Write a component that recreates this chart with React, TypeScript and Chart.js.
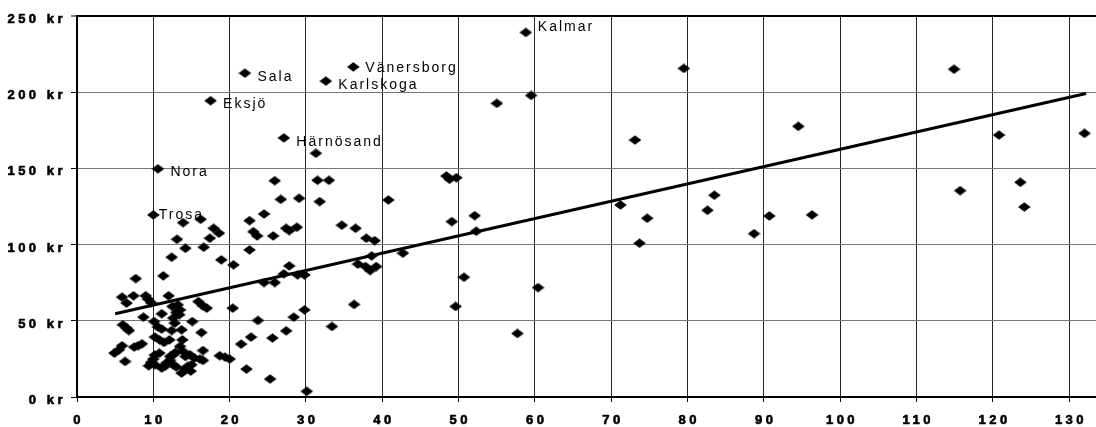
import React, { useEffect, useRef } from 'react';
import { Chart, registerables } from 'chart.js';

Chart.register(...registerables);

// ---------- data ----------
const xTickValues = [0, 10, 20, 30, 40, 50, 60, 70, 80, 90, 100, 110, 120, 130];
const yTickValues = [0, 50, 100, 150, 200, 250];
const yUnit = 'kr';

const namedCities = ['Kalmar', 'Vänersborg', 'Karlskoga', 'Sala', 'Eksjö', 'Härnösand', 'Nora', 'Trosa'];
const namedX = [58.8, 36.2, 32.6, 22.0, 17.5, 27.1, 10.6, 10.0];
const namedY = [239.2, 216.6, 207.3, 212.5, 194.4, 170.0, 149.7, 119.5];

const otherX = [
  55.0, 59.5, 79.5, 73.1, 94.5, 71.2, 74.7, 73.7, 83.5, 82.6, 88.7, 90.7, 96.3, 114.9, 120.8, 132.0, 115.7, 123.6, 124.1,
  48.4, 48.8, 49.7, 49.1, 52.1, 52.3, 42.7, 50.7, 49.6, 60.4, 57.7,
  31.3, 25.9, 31.5, 33.0, 26.7, 29.1, 31.8, 40.8, 22.6, 24.5, 23.1, 23.6, 25.7, 27.4, 27.8, 28.8, 34.7, 36.5, 37.9, 39.0,
  22.6, 38.6, 36.8, 37.8, 38.4, 39.2, 27.8, 27.1, 28.9, 29.8, 24.5, 25.9, 36.3, 29.8, 28.4, 23.7, 33.4, 27.4, 22.8, 25.6,
  21.5, 22.2, 25.3, 30.1,
  13.9, 16.2, 17.9, 18.6, 17.4, 13.1, 14.2, 16.6, 12.4, 18.9, 20.5, 7.7, 11.3,
  5.9, 6.5, 7.4, 9.0, 9.3, 9.7, 12.0, 12.5, 13.2, 13.5, 13.0, 13.4, 12.6, 12.8,
  15.9, 16.5, 17.0, 20.4,
  8.7, 11.1, 6.0, 6.5, 6.8, 10.1, 10.6, 11.1, 15.1, 13.7, 16.3, 12.4,
  10.2, 10.8, 11.4, 5.9, 5.5, 4.9, 7.5, 8.0, 8.5, 6.3,
  10.2, 10.8, 10.0, 9.7, 9.4, 10.2, 11.1, 11.5, 11.7, 12.2, 12.2,
  13.8, 13.5, 13.9, 12.9, 12.6, 14.2, 14.8, 15.4, 16.1, 16.5, 16.5, 13.0, 12.6, 14.5, 15.0, 14.2, 13.7, 14.9, 12.1,
  18.7, 19.4, 20.0,
];
const otherY = [
  192.7, 197.9, 215.6, 168.6, 177.6, 126.0, 117.3, 100.9, 132.4, 122.5, 107.2, 118.8, 119.5, 215.1, 171.9, 173.0, 135.4, 140.9, 124.7,
  145.0, 142.9, 143.9, 115.1, 119.0, 108.8, 94.4, 78.6, 59.4, 71.8, 41.7,
  159.9, 141.9, 142.2, 142.2, 129.7, 130.4, 128.2, 129.3, 115.7, 120.1, 108.5, 105.7, 105.7, 110.7, 109.2, 111.4, 112.7, 110.7, 104.2, 102.6,
  96.5, 92.6, 87.2, 85.6, 83.0, 85.6, 86.0, 80.8, 80.1, 80.1, 75.1, 75.1, 60.7, 57.2, 52.4, 50.2, 46.3, 43.4, 39.3, 38.7,
  34.7, 18.3, 11.8, 3.7,
  114.4, 116.6, 110.7, 107.5, 104.2, 103.5, 97.6, 98.3, 91.7, 90.0, 86.7, 77.7, 79.5,
  65.5, 61.6, 66.4, 66.4, 64.2, 62.0, 66.4, 59.4, 60.5, 57.2, 55.5, 54.0, 51.8, 48.5,
  62.6, 59.8, 58.3, 58.3,
  52.4, 54.6, 47.4, 45.2, 43.6, 49.5, 45.9, 44.6, 49.5, 44.1, 42.3, 43.6,
  39.3, 37.5, 35.8, 33.6, 31.0, 28.8, 32.8, 33.6, 34.9, 23.3,
  27.6, 28.8, 24.9, 22.7, 20.5, 21.2, 19.0, 20.1, 22.3, 24.0, 26.6,
  37.5, 33.2, 29.9, 29.2, 27.7, 26.6, 27.7, 25.6, 24.9, 24.0, 30.5, 19.7, 21.2, 20.1, 21.2, 18.3, 15.7, 17.0, 37.5,
  27.1, 26.2, 24.9,
];

const trendX = [5.0, 132.2];
const trendY = [54.6, 199.2];

// ---------- presentation ----------
const labelPlacement: Record<string, { dx: number; dy: number }> = {
  Kalmar: { dx: 12, dy: -6.6 },
  'Vänersborg': { dx: 12, dy: 0 },
  Karlskoga: { dx: 12.5, dy: 3 },
  Sala: { dx: 12.5, dy: 3 },
  'Eksjö': { dx: 12.5, dy: 2.3 },
  'Härnösand': { dx: 12.5, dy: 3 },
  Nora: { dx: 12.5, dy: 2 },
  Trosa: { dx: 5.5, dy: -0.7 },
};

const FONT = '"Liberation Sans", Arial, sans-serif';

function makeDiamond(): HTMLCanvasElement {
  const c = document.createElement('canvas');
  c.width = 13;
  c.height = 10;
  const g = c.getContext('2d')!;
  g.fillStyle = '#000';
  g.beginPath();
  g.moveTo(6.5, 0.3);
  g.lineTo(12.8, 5);
  g.lineTo(6.5, 9.7);
  g.lineTo(0.2, 5);
  g.closePath();
  g.fill();
  return c;
}

const spacingPlugin = {
  id: 'spacing',
  beforeLayout(chart: any) {
    (chart.ctx as any).letterSpacing = '3.5px';
  },
  beforeDraw(chart: any) {
    (chart.ctx as any).letterSpacing = '3.5px';
  },
};

const cityLabelPlugin = {
  id: 'cityLabels',
  afterDatasetsDraw(chart: any) {
    const ctx = chart.ctx as CanvasRenderingContext2D;
    const xs = chart.scales.x;
    const ys = chart.scales.y;
    ctx.save();
    (ctx as any).letterSpacing = '2px';
    ctx.font = `14px ${FONT}`;
    ctx.fillStyle = '#000';
    ctx.textAlign = 'left';
    ctx.textBaseline = 'alphabetic';
    namedCities.forEach((name, i) => {
      const p = labelPlacement[name] || { dx: 12, dy: 2 };
      const px = xs.getPixelForValue(namedX[i]);
      const py = ys.getPixelForValue(namedY[i]);
      ctx.fillText(name, px + p.dx, py + p.dy + 5);
    });
    ctx.restore();
  },
};

export default function App() {
  const ref = useRef<HTMLCanvasElement | null>(null);

  useEffect(() => {
    if (!ref.current) return;
    const diamond = makeDiamond();
    const points = [
      ...namedX.map((x, i) => ({ x, y: namedY[i] })),
      ...otherX.map((x, i) => ({ x, y: otherY[i] })),
    ];
    const trend = trendX.map((x, i) => ({ x, y: trendY[i] }));

    const chart = new Chart(ref.current, {
      type: 'scatter',
      data: {
        datasets: [
          {
            label: 'Trend',
            data: trend,
            showLine: true,
            borderColor: '#000',
            borderWidth: 3,
            pointRadius: 0,
            fill: false,
            order: 0,
          } as any,
          {
            label: 'Kommuner',
            data: points,
            pointStyle: diamond as any,
            pointRadius: 5,
            backgroundColor: '#000',
            borderColor: '#000',
            order: 1,
          },
        ],
      },
      options: {
        animation: false,
        responsive: false,
        devicePixelRatio: 1,
        layout: { autoPadding: false, padding: { top: 16, right: 0, left: 0, bottom: 0 } } as any,
        plugins: {
          legend: { display: false },
          tooltip: { enabled: false },
        },
        scales: {
          x: {
            type: 'linear',
            min: 0,
            max: 133.5,
            afterFit(scale: any) {
              scale.height = 30;
              scale.paddingLeft = 0;
              scale.paddingRight = 0;
            },
            afterBuildTicks(scale: any) {
              scale.ticks = xTickValues.map((v) => ({ value: v }));
            },
            ticks: {
              stepSize: 10,
              includeBounds: false,
              color: '#000',
              font: { family: FONT, size: 13, weight: 'bold' },
              textStrokeColor: '#000',
              textStrokeWidth: 0.6,
              padding: 11,
              maxRotation: 0,
              labelOffset: 1.7,
              callback: (v: any) => String(v),
            } as any,
            grid: {
              color: (c: any) => (c.tick && c.tick.value === 0 ? 'rgba(0,0,0,0)' : '#262626'),
              lineWidth: 1,
              tickColor: '#000',
              tickLength: 5,
              tickWidth: 1,
            },
            border: { color: '#000', width: 2 },
          },
          y: {
            type: 'linear',
            min: 0,
            max: 250,
            afterFit(scale: any) {
              scale.width = 77;
              scale.paddingTop = 0;
              scale.paddingBottom = 0;
            },
            afterBuildTicks(scale: any) {
              scale.ticks = yTickValues.map((v) => ({ value: v }));
            },
            ticks: {
              stepSize: 50,
              color: '#000',
              font: { family: FONT, size: 13, weight: 'bold' },
              textStrokeColor: '#000',
              textStrokeWidth: 0.6,
              padding: 5,
              labelOffset: 3.5,
              callback: (v: any) => `${v} ${yUnit}`,
            } as any,
            grid: {
              color: (c: any) =>
                c.tick && c.tick.value === 0 ? 'rgba(0,0,0,0)' : c.tick && c.tick.value === 250 ? '#000' : '#777',
              lineWidth: (c: any) => (c.tick && c.tick.value === 250 ? 2 : 1),
              tickColor: '#000',
              tickLength: 6,
              tickWidth: 1,
            },
            border: { color: '#000', width: 2 },
          },
        },
      },
      plugins: [spacingPlugin, cityLabelPlugin],
    });
    return () => chart.destroy();
  }, []);

  return (
    <div style={{ position: 'fixed', left: 0, top: 0, width: 1096, height: 427, background: '#fff' }}>
      <canvas ref={ref} width={1096} height={427} style={{ display: 'block', width: 1096, height: 427 }} />
    </div>
  );
}
